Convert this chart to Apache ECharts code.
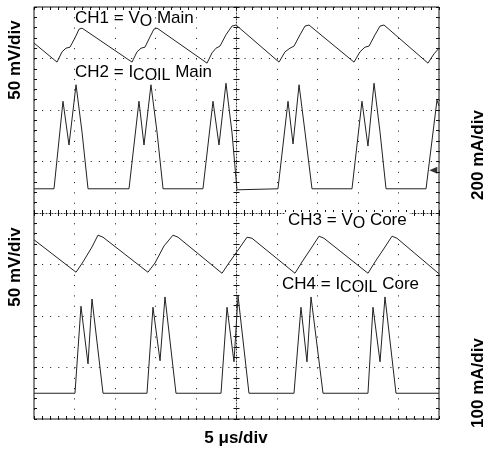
<!DOCTYPE html>
<html>
<head>
<meta charset="utf-8">
<script src="https://cdn.jsdelivr.net/npm/echarts@6/dist/echarts.min.js"></script>
<style>
html,body{margin:0;padding:0;background:#fff;}
#chart{width:489px;height:450px;}
</style>
</head>
<body>
<div id="chart"></div>
<script>
// time in microseconds (5 us/div, 10 divisions), levels in screen divisions (0..8)
const ch1T = [0, 2.84, 3.46, 3.95, 4.44, 5.06, 5.56, 5.93, 12.10, 12.72, 13.21, 13.70, 14.32, 14.81, 15.19, 21.36, 21.98, 22.47, 22.96, 23.70, 24.44, 24.94, 30.25, 30.99, 31.60, 32.10, 32.84, 33.46, 33.95, 39.51, 40.25, 40.86, 41.36, 42.10, 42.72, 43.21, 48.64, 49.38, 50.0];
const ch1Y = [7.30, 6.93, 7.13, 7.20, 7.22, 7.40, 7.57, 7.59, 6.93, 7.13, 7.20, 7.22, 7.42, 7.57, 7.59, 6.91, 7.11, 7.20, 7.24, 7.46, 7.63, 7.65, 6.93, 7.13, 7.20, 7.24, 7.46, 7.63, 7.65, 6.93, 7.13, 7.22, 7.24, 7.46, 7.63, 7.65, 6.91, 7.09, 7.20];

const ch2T = [0, 2.47, 3.58, 4.32, 5.19, 5.93, 6.67, 11.73, 12.96, 13.58, 14.44, 15.19, 15.93, 20.86, 22.10, 22.84, 23.70, 24.44, 25.06, 30.12, 31.36, 31.98, 32.72, 33.46, 34.32, 39.26, 40.49, 41.23, 41.98, 42.72, 43.46, 48.40, 49.75, 50];
const ch2Y = [4.47, 4.47, 6.17, 5.32, 6.49, 5.57, 4.47, 4.47, 6.17, 5.32, 6.49, 5.57, 4.47, 4.47, 6.17, 5.32, 6.52, 5.57, 4.45, 4.47, 6.17, 5.34, 6.49, 5.57, 4.47, 4.47, 6.17, 5.30, 6.52, 5.57, 4.47, 4.47, 6.19, 6.08];

const ch3T = [0, 5.19, 6.05, 7.16, 7.90, 8.52, 14.07, 14.94, 16.05, 17.16, 17.78, 23.21, 24.07, 25.19, 26.30, 26.91, 32.22, 33.09, 34.32, 35.19, 35.80, 41.23, 42.10, 43.33, 44.20, 44.81, 50];
const ch3Y = [3.48, 2.85, 3.05, 3.34, 3.57, 3.53, 2.85, 3.03, 3.36, 3.57, 3.53, 2.83, 3.03, 3.28, 3.53, 3.51, 2.83, 3.05, 3.34, 3.55, 3.51, 2.83, 3.05, 3.34, 3.55, 3.51, 2.82];

const ch4T = [0, 5.06, 5.80, 6.67, 7.16, 8.52, 13.95, 14.69, 15.56, 16.17, 17.53, 23.09, 23.83, 24.69, 25.19, 26.54, 32.10, 32.96, 33.70, 34.20, 35.68, 41.23, 41.85, 42.72, 43.33, 44.69, 50];
const ch4Y = [0.50, 0.50, 2.19, 1.07, 2.33, 0.50, 0.50, 2.17, 1.13, 2.37, 0.50, 0.50, 2.17, 1.11, 2.39, 0.50, 0.50, 2.17, 1.11, 2.37, 0.50, 0.50, 2.17, 1.11, 2.37, 0.50, 0.50];

const ch2Marker = [[49.3, 4.83]];

const xMin = 0, xMax = 50, xInterval = 5;
const yMin = 0, yMax = 8, yInterval = 1;

const leftLabels = ['50 mV/div', '50 mV/div'];
const rightLabels = ['200 mA/div', '100 mA/div'];
const bottomLabel = '5 μs/div';

function zip(t, y) { return t.map((v, i) => [v, y[i]]); }

const FONT = 'Arial, "Liberation Sans", Helvetica, sans-serif';
const INK = '#111';

const chart = echarts.init(document.getElementById('chart'), null, {renderer: 'canvas'});

const G = {left: 34, top: 7, width: 405, height: 412};

function xAx(extra) {
  return Object.assign({
    type: 'value', min: xMin, max: xMax, interval: xInterval,
    axisLine: {show: false, onZero: false},
    axisTick: {show: true, inside: true, length: 3, lineStyle: {color: INK}},
    minorTick: {show: true, splitNumber: 5, length: 3, lineStyle: {color: INK}},
    axisLabel: {show: false},
    splitLine: {show: false}
  }, extra);
}
function yAx(extra) {
  return Object.assign({
    type: 'value', min: yMin, max: yMax, interval: yInterval,
    axisLine: {show: false, onZero: false},
    axisTick: {show: true, inside: true, length: 3, lineStyle: {color: INK}},
    minorTick: {show: true, splitNumber: 5, length: 3, lineStyle: {color: INK}},
    axisLabel: {show: false},
    splitLine: {show: false}
  }, extra);
}

const subRich = {
  m: {fontSize: 17, lineHeight: 15, verticalAlign: 'top', fontFamily: FONT, color: '#000'},
  s: {fontSize: 16, lineHeight: 23, verticalAlign: 'middle', fontFamily: FONT, color: '#000'}
};

function chText(x, y, txt, bg) {
  const st = {text: txt, rich: subRich, align: 'left', verticalAlign: 'top'};
  if (bg) { st.backgroundColor = '#fff'; st.padding = [0, 3, 0, 3]; }
  return {type: 'text', x: x, y: y, z: 100, style: st};
}
function axText(x, y, txt, rot) {
  return {
    type: 'text', x: x, y: y, rotation: rot, z: 100,
    style: {
      text: txt, fontSize: 17, fontWeight: 'bold', fontFamily: FONT, fill: '#000',
      align: 'center', verticalAlign: 'middle'
    }
  };
}

const option = {
  animation: false,
  backgroundColor: '#fff',
  grid: Object.assign({show: true, borderColor: INK, borderWidth: 1, backgroundColor: 'transparent'}, G),
  xAxis: [
    xAx({position: 'bottom', splitLine: {show: true, lineStyle: {color: INK, width: 1, type: [1, 9.3]}}}),
    xAx({position: 'top'}),
    xAx({position: 'bottom', offset: -206, axisLine: {show: true, onZero: false, lineStyle: {color: '#333', type: [1, 2]}}}),
    xAx({position: 'bottom', offset: -206, axisTick: {show: true, inside: false, length: 3, lineStyle: {color: INK}}, minorTick: {show: true, splitNumber: 5, length: 3, lineStyle: {color: INK}}})
  ],
  yAxis: [
    yAx({position: 'left', splitLine: {show: true, lineStyle: {color: INK, width: 1, type: [1, 7.1]}}}),
    yAx({position: 'right'}),
    yAx({position: 'left', offset: -202.5, axisLine: {show: true, onZero: false, lineStyle: {color: '#333', type: [1, 2]}}}),
    yAx({position: 'left', offset: -202.5, axisTick: {show: true, inside: false, length: 3, lineStyle: {color: INK}}, minorTick: {show: true, splitNumber: 5, length: 3, lineStyle: {color: INK}}})
  ],
  series: [
    {name: 'CH1', type: 'line', data: zip(ch1T, ch1Y)},
    {name: 'CH2', type: 'line', data: zip(ch2T, ch2Y)},
    {name: 'CH3', type: 'line', data: zip(ch3T, ch3Y)},
    {name: 'CH4', type: 'line', data: zip(ch4T, ch4Y)}
  ].map(s => Object.assign(s, {
    xAxisIndex: 0, yAxisIndex: 0, showSymbol: false, symbol: 'none',
    lineStyle: {color: '#222', width: 1}, z: 5, silent: true
  })).concat([{
    name: 'ref', type: 'scatter', data: ch2Marker, symbol: 'triangle', symbolRotate: 90,
    symbolSize: [7, 8], itemStyle: {color: '#000'}, z: 6, silent: true
  }]),
  graphic: [
    chText(75, 10, '{m|CH1 = V}{s|O}{m| Main}', false),
    chText(75, 64, '{m|CH2 = I}{s|COIL}{m| Main}', false),
    chText(285, 212, '{m|CH3 = V}{s|O}{m| Core}', true),
    chText(282, 276, '{m|CH4 = I}{s|COIL}{m| Core}', false),
    axText(15, 60, leftLabels[0], Math.PI / 2),
    axText(15, 267, leftLabels[1], Math.PI / 2),
    axText(478, 155, rightLabels[0], Math.PI / 2),
    axText(478, 383, rightLabels[1], Math.PI / 2),
    axText(236, 438, bottomLabel, 0)
  ]
};
chart.setOption(option);
</script>
</body>
</html>
